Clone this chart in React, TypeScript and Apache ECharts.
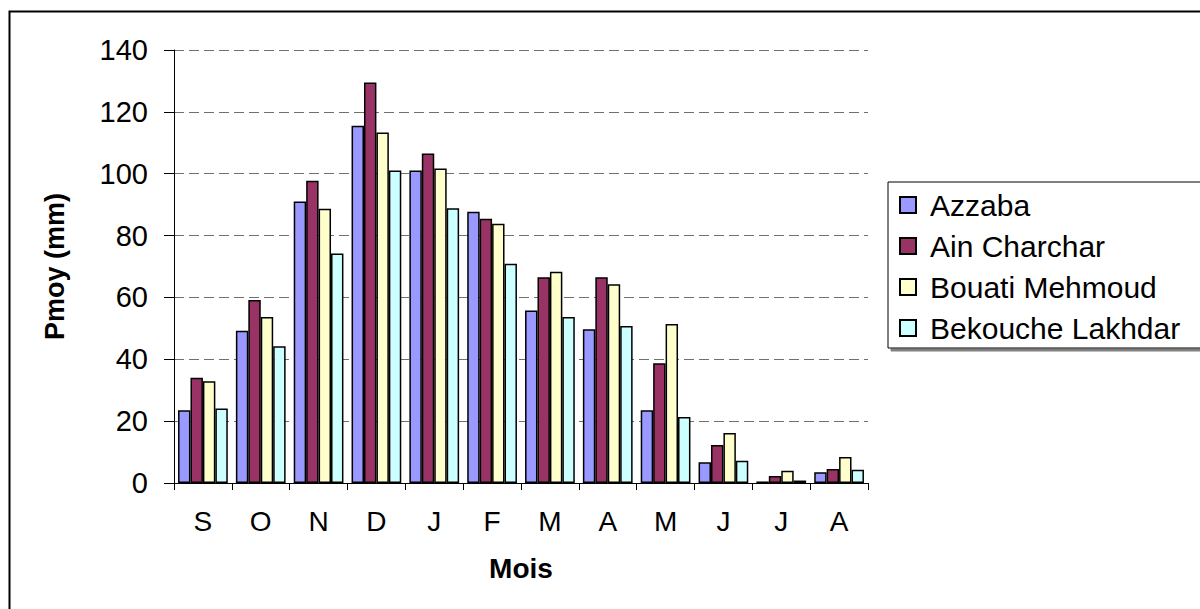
import React, { useEffect, useRef } from "react";
import * as echarts from "echarts";

const months = ["S", "O", "N", "D", "J", "F", "M", "A", "M", "J", "J", "A"];
const azzaba = [23.5, 49.2, 91.0, 115.5, 101.0, 87.7, 55.8, 49.7, 23.5, 6.7, 0.5, 3.5];
const ainCharchar = [34.0, 59.2, 97.7, 129.5, 106.5, 85.4, 66.5, 66.5, 38.7, 12.3, 2.3, 4.5];
const bouatiMehmoud = [32.9, 53.7, 88.7, 113.3, 101.7, 83.8, 68.3, 64.3, 51.4, 16.2, 4.0, 8.4];
const bekoucheLakhdar = [24.1, 44.2, 74.2, 101.0, 88.8, 70.9, 53.7, 50.8, 21.3, 7.2, 0.8, 4.3];

const seriesNames = ["Azzaba", "Ain Charchar", "Bouati Mehmoud", "Bekouche Lakhdar"];
const seriesData = [azzaba, ainCharchar, bouatiMehmoud, bekoucheLakhdar];
const seriesColors = ["#9999FF", "#993366", "#FFFFCC", "#CCFFFF"];

const FONT = "Arial, 'Liberation Sans', sans-serif";

export default function App() {
  const ref = useRef<HTMLDivElement>(null);
  useEffect(() => {
    if (!ref.current) return;
    const chart = echarts.init(ref.current, null, { renderer: "svg" });
    chart.setOption({
      animation: false,
      backgroundColor: "#ffffff",
      graphic: [
        {
          type: "rect",
          left: 7,
          top: 9,
          shape: { width: 1400, height: 800 },
          style: { fill: "none", stroke: "#000", lineWidth: 2 },
          z: -10,
          silent: true,
        },
      ],
      grid: { left: 174, right: 332, top: 50, bottom: 126 },
      legend: {
        orient: "vertical",
        left: 888,
        top: 182,
        padding: [8, 60, 5, 11],
        itemWidth: 16,
        itemHeight: 16,
        itemGap: 11,
        icon: "rect",
        backgroundColor: "#fff",
        borderColor: "#000",
        borderWidth: 1,
        shadowColor: "#808080",
        shadowOffsetX: 3,
        shadowOffsetY: 3,
        shadowBlur: 0,
        textStyle: {
          fontFamily: FONT,
          fontSize: 30,
          color: "#000",
          lineHeight: 30,
          padding: [0, 0, 0, 9],
        },
        data: seriesNames,
      },
      xAxis: {
        type: "category",
        data: months,
        name: "Mois",
        nameLocation: "middle",
        nameGap: 71,
        nameTextStyle: { fontFamily: FONT, fontSize: 28, fontWeight: "bold", color: "#000" },
        axisLine: { lineStyle: { color: "#000", width: 1 } },
        axisTick: { show: true, length: 7, lineStyle: { color: "#000" } },
        axisLabel: { fontFamily: FONT, fontSize: 28, color: "#000", margin: 24 },
      },
      yAxis: {
        type: "value",
        min: 0,
        max: 140,
        interval: 20,
        name: "Pmoy (mm)",
        nameLocation: "middle",
        nameGap: 106,
        nameRotate: 90,
        nameTextStyle: { fontFamily: FONT, fontSize: 27, fontWeight: "bold", color: "#000" },
        axisLine: { show: true, lineStyle: { color: "#000", width: 1 } },
        axisTick: { show: true, length: 10, lineStyle: { color: "#000" } },
        axisLabel: { fontFamily: FONT, fontSize: 29, color: "#000", margin: 26 },
        splitLine: {
          show: true,
          lineStyle: { color: "#707070", type: [10, 5], width: 1 },
        },
      },
      series: seriesNames.map((name, i) => ({
        name,
        type: "bar",
        data: seriesData[i],
        barGap: "0%",
        barCategoryGap: "14%",
        itemStyle: { color: seriesColors[i], borderColor: "#000", borderWidth: 1.5 },
      })),
    });
    return () => chart.dispose();
  }, []);
  return (
    <div style={{ position: "fixed", left: 0, top: 0, width: 1200, height: 609, background: "#fff" }}>
      <div ref={ref} style={{ width: 1200, height: 609 }} />
    </div>
  );
}
